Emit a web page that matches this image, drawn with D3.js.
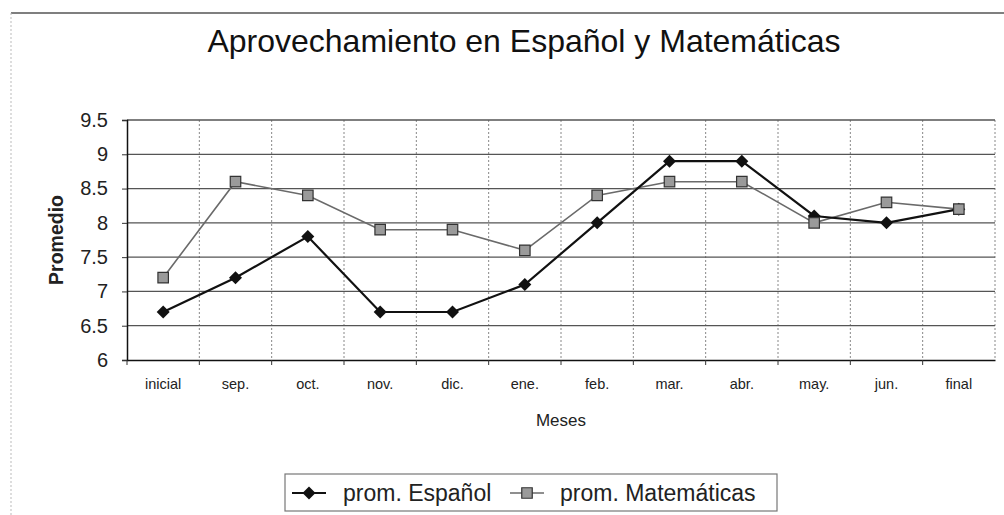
<!DOCTYPE html>
<html>
<head>
<meta charset="utf-8">
<script src="https://cdn.jsdelivr.net/npm/d3@7"></script>
<style>
  body { margin: 0; background: #fff; }
  svg { display: block; font-family: "Liberation Sans", Arial, sans-serif; }
</style>
</head>
<body id="chart">
<script>
// data
const meses = ["inicial", "sep.", "oct.", "nov.", "dic.", "ene.", "feb.", "mar.", "abr.", "may.", "jun.", "final"];
const espanol = [6.7, 7.2, 7.8, 6.7, 6.7, 7.1, 8.0, 8.9, 8.9, 8.1, 8.0, 8.2];
const matematicas = [7.2, 8.6, 8.4, 7.9, 7.9, 7.6, 8.4, 8.6, 8.6, 8.0, 8.3, 8.2];
const yTicks = [6, 6.5, 7, 7.5, 8, 8.5, 9, 9.5];
const series = ["prom. Español", "prom. Matemáticas"];

const width = 1004, height = 515;
const margin = { top: 120, right: 9, bottom: 155, left: 127 };
const w = width - margin.left - margin.right;
const h = height - margin.top - margin.bottom;

const svg = d3.select("body#chart")
  .append("svg")
  .attr("width", width)
  .attr("height", height);

// outer chart frame (only top + left are visible in the picture)
svg.append("line")
  .attr("x1", 11).attr("x2", width).attr("y1", 13).attr("y2", 13)
  .attr("stroke", "#555").attr("stroke-width", 1.5);
svg.append("line")
  .attr("x1", 11).attr("x2", 11).attr("y1", 13).attr("y2", height)
  .attr("stroke", "#bbb").attr("stroke-dasharray", "2,2");

// title
svg.append("text")
  .attr("x", 524).attr("y", 52)
  .attr("text-anchor", "middle")
  .style("font-size", "32px")
  .style("fill", "#111")
  .text("Aprovechamiento en Español y Matemáticas");

const g = svg.append("g")
  .attr("transform", "translate(" + margin.left + "," + margin.top + ")");

const x = d3.scaleBand().domain(meses).range([0, w]);
const y = d3.scaleLinear().domain([6, 9.5]).range([h, 0]);

// vertical dotted grid at category edges
g.append("g")
  .selectAll("line")
  .data(meses.slice(1))
  .enter()
  .append("line")
  .attr("x1", d => x(d)).attr("x2", d => x(d))
  .attr("y1", 0).attr("y2", h)
  .attr("stroke", "#888").attr("stroke-dasharray", "2,2");

// right border dotted
g.append("line")
  .attr("x1", w).attr("x2", w).attr("y1", 0).attr("y2", h)
  .attr("stroke", "#888").attr("stroke-dasharray", "2,2");

// horizontal grid
g.append("g")
  .selectAll("line")
  .data(yTicks.slice(1))
  .enter()
  .append("line")
  .attr("x1", 0).attr("x2", w)
  .attr("y1", d => y(d)).attr("y2", d => y(d))
  .attr("stroke", "#555").attr("stroke-width", 1.3);

// Y axis
const yAxis = g.append("g")
  .call(d3.axisLeft(y).tickValues(yTicks).tickSize(5).tickPadding(14).tickFormat(d3.format("")));
yAxis.select(".domain").attr("stroke", "#111").attr("stroke-width", 1.5);
yAxis.selectAll(".tick line").attr("stroke", "#333");
yAxis.selectAll("text")
  .style("font-size", "20px")
  .style("fill", "#222");

// X axis with ticks on the band edges
const xAxis = g.append("g")
  .attr("transform", "translate(0," + h + ")")
  .call(d3.axisBottom(x).tickSize(0).tickPadding(19));
xAxis.select(".domain").attr("stroke", "#111").attr("stroke-width", 1.5);
xAxis.selectAll("text")
  .style("font-size", "14.5px")
  .style("fill", "#222");
xAxis.selectAll(".edge")
  .data(meses)
  .enter()
  .append("line")
  .attr("x1", d => x(d)).attr("x2", d => x(d))
  .attr("y1", 0).attr("y2", 5)
  .attr("stroke", "#333");

// axis titles
svg.append("text")
  .attr("x", margin.left + w / 2).attr("y", 426)
  .attr("text-anchor", "middle")
  .style("font-size", "17px")
  .style("fill", "#222")
  .text("Meses");

svg.append("text")
  .attr("transform", "translate(63," + (margin.top + h / 2) + ")rotate(-90)")
  .attr("text-anchor", "middle")
  .style("font-size", "19.5px")
  .style("font-weight", "bold")
  .style("fill", "#222")
  .text("Promedio");

// lines
const line = d3.line()
  .x((d, i) => x(meses[i]) + x.bandwidth() / 2)
  .y(d => y(d));

g.append("path")
  .datum(matematicas)
  .attr("fill", "none")
  .attr("stroke", "#6a6a6a")
  .attr("stroke-width", 1.6)
  .attr("d", line);

g.append("path")
  .datum(espanol)
  .attr("fill", "none")
  .attr("stroke", "#111")
  .attr("stroke-width", 2.2)
  .attr("d", line);

// markers: square with hatch, diamond = rotated square
const square = d3.symbol().type(d3.symbolSquare).size(110);
const cross = d3.symbol().type(d3.symbolX).size(70);
const diamond = "M0,-6.5L6.5,0L0,6.5L-6.5,0Z";

function drawSquare(sel, cx, cy) {
  sel.append("path")
    .attr("d", square)
    .attr("transform", "translate(" + cx + "," + cy + ")")
    .attr("fill", "#9a9a9a")
    .attr("stroke", "#333")
    .attr("stroke-width", 1.2);
  sel.append("path")
    .attr("d", cross)
    .attr("transform", "translate(" + cx + "," + cy + ")")
    .attr("fill", "#555");
}

g.append("g")
  .selectAll("path")
  .data(espanol)
  .enter()
  .append("path")
  .attr("d", diamond)
  .attr("transform", (d, i) => "translate(" + (x(meses[i]) + x.bandwidth() / 2) + "," + y(d) + ")")
  .attr("fill", "#111");

// squares go on top (visible over the diamond at "final")
matematicas.forEach((d, i) => {
  drawSquare(g, x(meses[i]) + x.bandwidth() / 2, y(d));
});

// legend
const leg = svg.append("g").attr("transform", "translate(285,474)");
leg.append("rect")
  .attr("width", 492).attr("height", 37)
  .attr("fill", "#fff")
  .attr("stroke", "#777").attr("stroke-width", 1.2);

leg.append("line")
  .attr("x1", 7).attr("x2", 41).attr("y1", 19).attr("y2", 19)
  .attr("stroke", "#111").attr("stroke-width", 2);
leg.append("path")
  .attr("d", diamond)
  .attr("transform", "translate(24,19)")
  .attr("fill", "#111");
leg.append("text")
  .attr("x", 58).attr("y", 27)
  .style("font-size", "23px")
  .style("fill", "#222")
  .text(series[0]);

leg.append("line")
  .attr("x1", 225).attr("x2", 259).attr("y1", 19).attr("y2", 19)
  .attr("stroke", "#6a6a6a").attr("stroke-width", 1.6);
drawSquare(leg, 242, 19);
leg.append("text")
  .attr("x", 275).attr("y", 27)
  .style("font-size", "23px")
  .style("fill", "#222")
  .text(series[1]);
</script>
</body>
</html>
